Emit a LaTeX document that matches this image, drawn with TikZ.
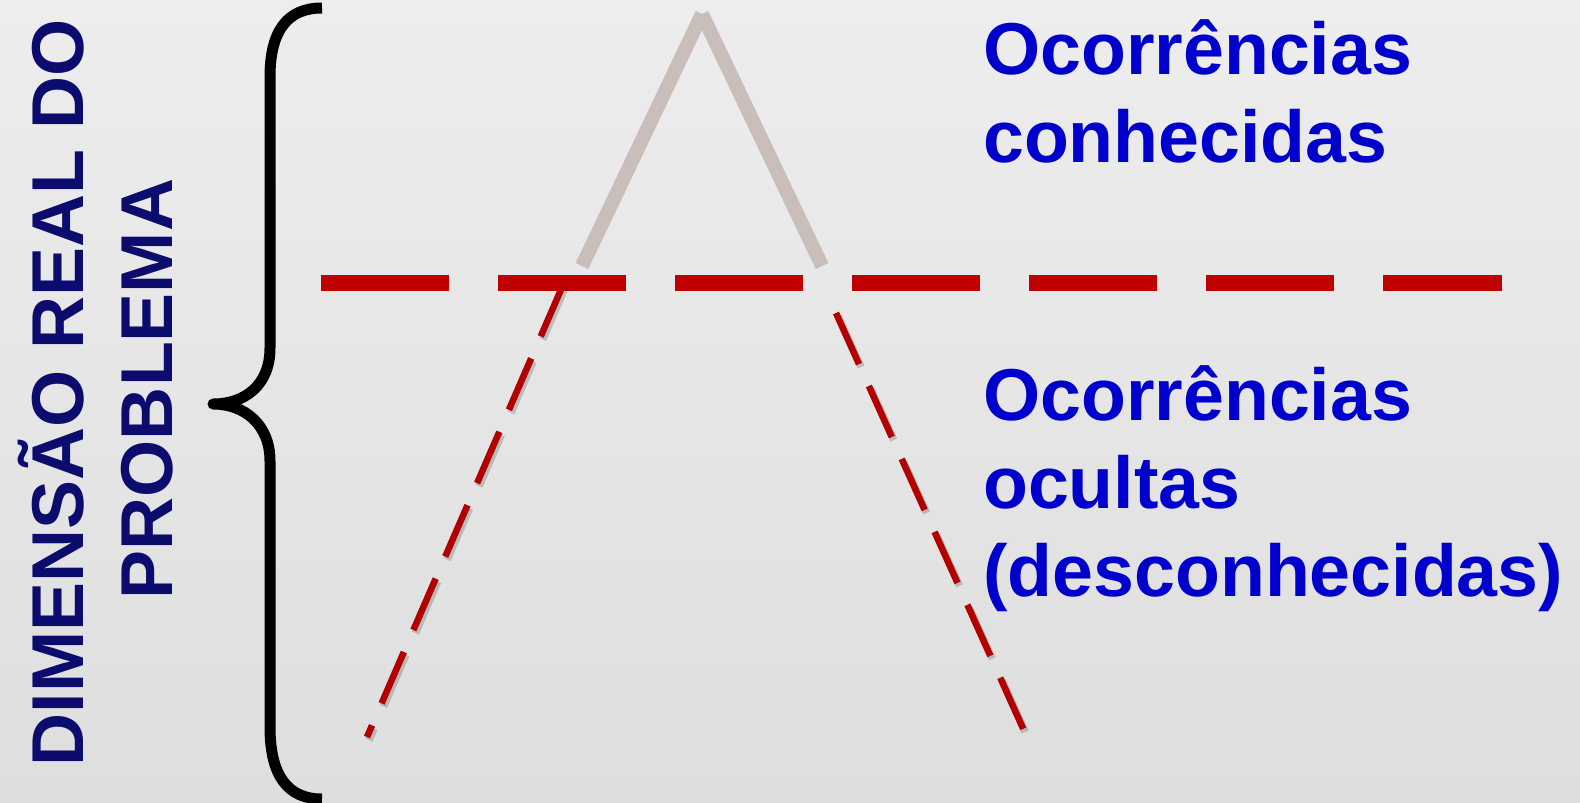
\documentclass[tikz,border=0pt]{standalone}
\usepackage{fontspec}
\setmainfont{Liberation Sans}
\definecolor{bgtop}{RGB}{237,237,237}
\definecolor{bgbot}{RGB}{222,222,222}
\definecolor{navy}{RGB}{12,12,110}
\definecolor{txtblue}{RGB}{0,0,204}
\definecolor{redline}{RGB}{192,0,0}
\definecolor{reddiag}{RGB}{178,0,0}
\definecolor{taupe}{RGB}{201,190,185}
\tikzset{
  sidetext/.style={font=\bfseries\fontsize{73.5}{89}\selectfont, text=navy, inner sep=0pt, rotate=90, anchor=base},
  bluetext/.style={font=\bfseries\fontsize{73.5}{88}\selectfont, text=txtblue, inner sep=0pt, anchor=base west},
  hdash/.style={draw=redline, line width=16, dash pattern=on 128 off 49},
  ddash/.style={draw=reddiag, line width=6.5, dash pattern=on 56 off 24},
  dshadow/.style={draw=black, opacity=0.18, line width=7.5, dash pattern=on 56 off 24},
  peak/.style={draw=taupe, line width=14, line cap=butt},
  bracestyle/.style={draw=black, line width=11, line join=round}
}
\begin{document}
\begin{tikzpicture}[x=1pt,y=-1pt]
\useasboundingbox (0,0) rectangle (1580,803);
\shade[top color=bgtop, bottom color=bgbot] (0,0) rectangle (1580,803);

% left rotated title
\node[sidetext] (t1) at (83,392.5) {DIMENSÃO REAL DO};
\node[sidetext] (t2) at (172,389) {PROBLEMA};

% brace
\draw[bracestyle] (322,8) .. controls (288,8) and (270,30) .. (270,77)
  -- (270,348) .. controls (270,385) and (245,404) .. (213,404)
  .. controls (245,404) and (270,425) .. (270,461)
  -- (270,727) .. controls (270,776) and (288,799) .. (322,799);

% gray peak (known part)
\coordinate (apex) at (702,14);
\coordinate (lf) at (582,266);
\coordinate (rf) at (822,266);
\draw[peak] (lf) -- (apex);
\draw[peak] (rf) -- (apex);

% horizontal dashed line
\coordinate (h1) at (321,283);
\coordinate (h2) at (1502,283);
\draw[hdash] (h1) -- (h2);

% hidden part diagonals
\coordinate (l1) at (563,285);
\coordinate (l2) at (367,737);
\coordinate (r1) at (836,313);
\coordinate (r2) at (1026,735);
\draw[dshadow] ([shift={(2,3)}]l1) -- ([shift={(2,3)}]l2);
\draw[dshadow] ([shift={(2,3)}]r1) -- ([shift={(2,3)}]r2);
\draw[ddash] (l1) -- (l2);
\draw[ddash] (r1) -- (r2);

% right texts
\node[bluetext] (k1) at (983,74) {Ocorrências};
\node[bluetext] (k2) at (983,162) {conhecidas};
\node[bluetext] (o1) at (983,420) {Ocorrências};
\node[bluetext] (o2) at (983,508) {ocultas};
\node[bluetext] (o3) at (983,596) {(desconhecidas)};
\end{tikzpicture}
\end{document}
